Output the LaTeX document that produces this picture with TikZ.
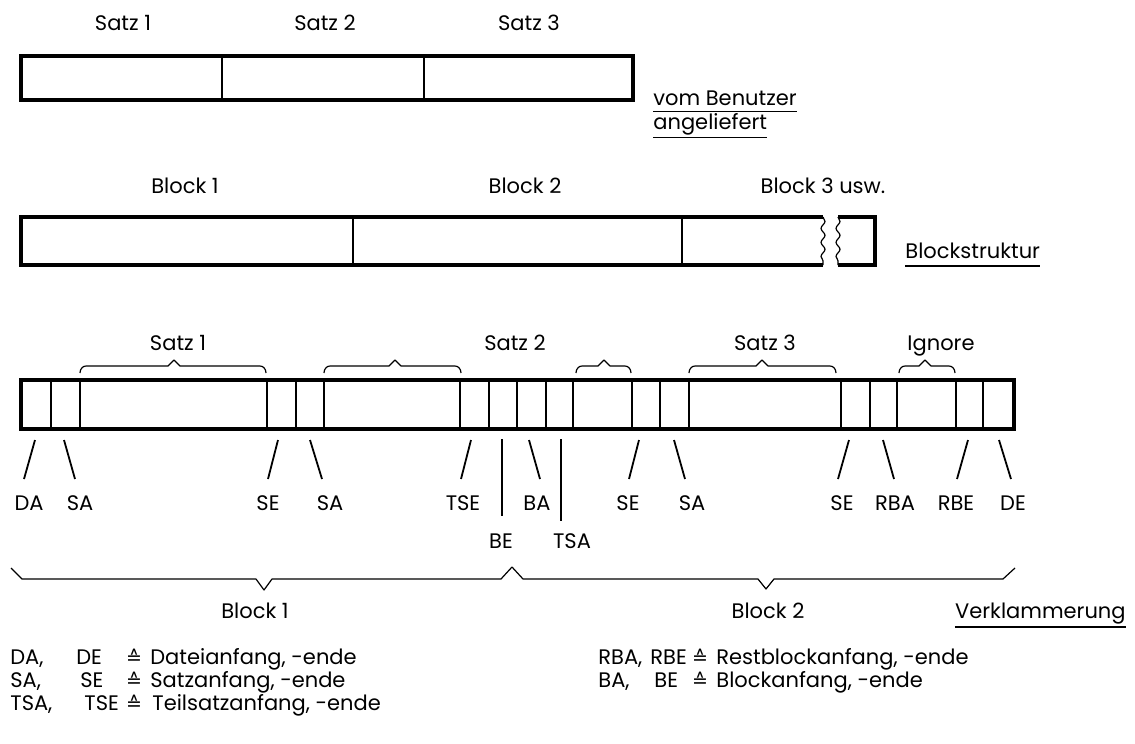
\documentclass[tikz,border=0pt]{standalone}
\usepackage{fontspec}
\setmainfont{Poppins}
\newfontfamily\symfnt{DejaVu Sans}
\usetikzlibrary{decorations.pathmorphing}
\begin{document}
\begin{tikzpicture}[x=0.5pt,y=-0.5pt,
  every node/.style={font=\fontsize{10.5}{12}\selectfont, inner sep=0pt},
  lbl/.style={anchor=base},
  lblw/.style={anchor=base west},
  lble/.style={anchor=base east},
  eqs/.style={anchor=base, font=\symfnt\fontsize{9.5}{10}\selectfont},
  barline/.style={line width=1.6pt, line join=miter},
  divline/.style={line width=0.7pt},
  cellline/.style={line width=1pt},
  ptr/.style={line width=0.9pt},
  bracel/.style={line width=0.6pt, line join=round},
  uline/.style={line width=0.8pt},
  wavy/.style={line width=0.6pt, decorate, decoration={snake, segment length=7pt, amplitude=1pt}}
]
\useasboundingbox (0,0) rectangle (1135,744);

% ---------- section 1 ----------
\node[lbl] (s1) at (123,30) {Satz 1};
\node[lbl] (s2) at (325,30) {Satz 2};
\node[lbl] (s3) at (529,30) {Satz 3};
\draw[barline] (21,56) rectangle (633,100);
\draw[divline] (222,56) -- (222,100);
\draw[divline] (424,56) -- (424,100);
\node[lblw] (vb) at (653,105) {vom Benutzer};
\node[lblw] (al) at (653,129) {angeliefert};
\draw[uline] ([yshift=-3.2pt]vb.base west) -- ([yshift=-3.2pt]vb.base east);
\draw[uline] ([yshift=-4.2pt]al.base west) -- ([yshift=-4.2pt]al.base east);

% ---------- section 2 ----------
\node[lbl] (b1) at (185,193) {Block 1};
\node[lbl] (b2) at (525,193) {Block 2};
\node[lbl] (b3) at (823,193) {Block 3 usw.};
\draw[barline] (823,217) -- (21,217) -- (21,265) -- (823,265);
\draw[wavy] (823,217) -- (823,265);
\draw[barline] (838,217) -- (875,217) -- (875,265) -- (838,265);
\draw[wavy] (838,217) -- (838,265);
\draw[divline] (353,217) -- (353,265);
\draw[divline] (682,217) -- (682,265);
\node[lblw] (bs) at (905,258) {Blockstruktur};
\draw[uline] ([yshift=-4pt]bs.base west) -- ([yshift=-4pt]bs.base east);

% ---------- section 3 ----------
\draw[barline] (21,380) rectangle (1014,429);
\foreach \x in {51,80,267,296,324,460,489,517,546,573,632,660,689,841,870,897,956,983}
  \draw[cellline] (\x,380) -- (\x,429);

\foreach \a/\b/\t in {80/266/174, 324/461/395, 576/631/604, 689/836/762, 899/955/925}
  \draw[bracel] (\a,373) to[out=90,in=180] (\a+6,366) -- (\t-6,366) -- (\t,360)
                -- (\t+6,366) -- (\b-6,366) to[out=0,in=90] (\b,373);

\node[lbl] (t1) at (178,350) {Satz 1};
\node[lbl] (t2) at (515,350) {Satz 2};
\node[lbl] (t3) at (765,350) {Satz 3};
\node[lbl] (t4) at (941,350) {Ignore};

% pointer labels
\foreach \n/\tx/\bx/\lx/\txt in {da/35/24/29/DA, sa1/64/75/80/SA, se1/278/268/268/SE, sa2/310/322/330/SA,
   tse/471/461/463/TSE, ba/529/540/537/BA, se2/639/629/628/SE, sa3/674/685/692/SA,
   se3/849/838/842/SE, rba/883/894/895/RBA, rbe/968/957/956/RBE, de/999/1011/1013/DE}
{
  \coordinate (\n top) at (\tx,440);
  \coordinate (\n bot) at (\bx,479);
  \node[lbl] (\n) at (\lx,510) {\txt};
  \draw[ptr] (\n top) -- (\n bot);
}
\node[lbl] (be) at (501,548) {BE};
\node[lbl] (tsa) at (572,548) {TSA};
\coordinate (betop) at (502,439);
\coordinate (bebot) at (502,516);
\coordinate (tsatop) at (561,439);
\coordinate (tsabot) at (561,521);
\draw[ptr] (betop) -- (bebot);
\draw[ptr] (tsatop) -- (tsabot);

% bottom braces
\draw[bracel] (11,568) -- (22,579) -- (256,579) -- (264,590) -- (272,579) -- (501,579) -- (512,567);
\draw[bracel] (512,567) -- (523,579) -- (758,579) -- (766,589) -- (774,579) -- (1003,579) -- (1015,568);
\node[lbl] (k1) at (255,618) {Block 1};
\node[lbl] (k2) at (768,618) {Block 2};
\node[lble] (vk) at (1126,618) {Verklammerung};
\draw[uline] ([yshift=-4.5pt]vk.base west) -- ([yshift=-4.5pt]vk.base east);

% legend
\node[lblw] (l1a) at (10,664) {DA,};
\node[lblw] (l1b) at (76,664) {DE};
\node[eqs]  (l1c) at (134,664) {≙};
\node[lblw] (l1d) at (150,664) {Dateianfang, -ende};
\node[lblw] (l2a) at (10,687) {SA,};
\node[lblw] (l2b) at (80,687) {SE};
\node[eqs]  (l2c) at (134,687) {≙};
\node[lblw] (l2d) at (150,687) {Satzanfang, -ende};
\node[lblw] (l3a) at (10,710) {TSA,};
\node[lblw] (l3b) at (84,710) {TSE};
\node[eqs]  (l3c) at (134,710) {≙};
\node[lblw] (l3d) at (152,710) {Teilsatzanfang, -ende};
\node[lblw] (r1a) at (598,664) {RBA,};
\node[lblw] (r1b) at (650,664) {RBE};
\node[eqs]  (r1c) at (700,664) {≙};
\node[lblw] (r1d) at (716,664) {Restblockanfang, -ende};
\node[lblw] (r2a) at (598,687) {BA,};
\node[lblw] (r2b) at (654,687) {BE};
\node[eqs]  (r2c) at (700,687) {≙};
\node[lblw] (r2d) at (716,687) {Blockanfang, -ende};
\end{tikzpicture}
\end{document}
